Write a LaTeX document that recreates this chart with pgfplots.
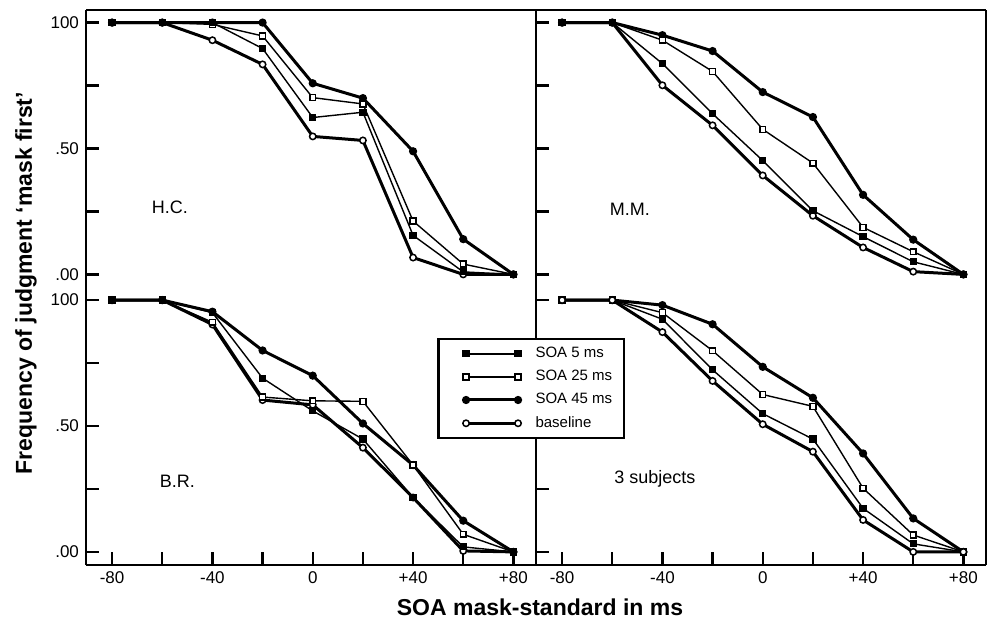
\documentclass[border=0pt]{standalone}
\usepackage{fontspec}
\setmainfont{Liberation Sans}
\usepackage{pgfplots}
\usepackage{pgfplotstable}
\pgfplotsset{compat=1.18}

% columns: SOA, SOA 5 ms, SOA 25 ms, SOA 45 ms, baseline
\pgfplotstableread{
x    s5     s25    s45    base
-80  1.000  1.000  1.000  1.000
-60  1.000  1.000  1.000  1.000
-40  1.000  0.993  1.000  0.930
-20  0.897  0.947  1.000  0.834
0    0.623  0.702  0.759  0.548
20   0.644  0.677  0.700  0.532
40   0.155  0.212  0.489  0.067
60   0.010  0.041  0.140  0.000
80   0.000  0.000  0.000  0.000
}\hc
\pgfplotstableread{
x    s5     s25    s45    base
-80  1.000  1.000  1.000  1.000
-60  1.000  1.000  1.000  1.000
-40  0.837  0.930  0.950  0.751
-20  0.638  0.806  0.887  0.592
0    0.452  0.576  0.724  0.393
20   0.253  0.442  0.625  0.233
40   0.150  0.187  0.316  0.107
60   0.050  0.090  0.138  0.011
80   0.000  0.000  0.000  0.000
}\mm
\pgfplotstableread{
x    s5     s25    s45    base
-80  1.000  1.000  1.000  1.000
-60  1.000  1.000  1.000  1.000
-40  0.950  0.912  0.954  0.903
-20  0.690  0.615  0.800  0.603
0    0.560  0.600  0.700  0.584
20   0.448  0.598  0.510  0.414
40   0.216  0.345  0.345  0.216
60   0.020  0.070  0.124  0.004
80   0.000  0.000  0.000  0.000
}\br
\pgfplotstableread{
x    s5     s25    s45    base
-80  1.000  1.000  1.000  1.000
-60  1.000  1.000  1.000  1.000
-40  0.924  0.950  0.980  0.873
-20  0.723  0.799  0.904  0.679
0    0.549  0.625  0.735  0.507
20   0.448  0.578  0.612  0.398
40   0.173  0.253  0.391  0.127
60   0.032  0.067  0.133  0.000
80   0.000  0.000  0.000  0.000
}\all

\tikzset{lbl/.style={font=\fontsize{9}{10}\selectfont}}
\pgfplotsset{
  every non boxed x axis/.append style={x axis line style=-},
  every non boxed y axis/.append style={y axis line style=-},
  panel/.style={
    scale only axis, width=225pt, height=138.75pt,
    xmin=-90.4, xmax=89, ymin=-0.052, ymax=1.05,
    separate axis lines,
    axis y line*=box, ytick pos=left,
    tick align=inside, major tick length=6.5pt,
    ytick={0,0.25,0.5,0.75,1},
    axis line style={line width=1.4pt, -},
    every tick/.style={line width=1.1pt, black},
    clip=false,
    tick label style={font=\fontsize{8.5}{10}\selectfont},
    /pgf/number format/assume math mode=true,
  },
  toppanel/.style={panel, axis x line*=top, xtick=\empty},
  botpanel/.style={panel, axis x line*=bottom,
    xtick={-80,-60,-40,-20,0,20,40,60,80},
    xticklabels={-80,,-40,,0,,+40,,+80},
    xtick pos=bottom},
  leftpanel/.style={yticklabels={.00,,.50,,100}},
  rightpanel/.style={yticklabels={}},
  s5/.style={black, line width=0.7pt, mark=square*, mark size=1.45pt, mark options={solid}},
  s25/.style={black, line width=0.7pt, mark=square*, mark size=1.45pt, mark options={solid, fill=white, line width=0.7pt}},
  s45/.style={black, line width=1.5pt, mark=*, mark size=1.75pt, mark options={solid, line width=0.6pt}},
  sbase/.style={black, line width=1.5pt, mark=*, mark size=1.6pt, mark options={solid, fill=white, line width=0.75pt}},
}

\begin{document}
\begin{tikzpicture}
\useasboundingbox (-43pt,-26pt) rectangle (452pt,282.5pt);

% top left: H.C.
\begin{axis}[toppanel, leftpanel, at={(0pt,138.75pt)}, anchor=south west]
\addplot[sbase] table[x=x,y=base]{\hc};
\addplot[s45] table[x=x,y=s45]{\hc};
\addplot[s25] table[x=x,y=s25]{\hc};
\addplot[s5] table[x=x,y=s5]{\hc};
\node[lbl] at (axis cs:-57,0.265) {H.C.};
\end{axis}

% top right: M.M.
\begin{axis}[toppanel, rightpanel, at={(225pt,138.75pt)}, anchor=south west]
\addplot[sbase] table[x=x,y=base]{\mm};
\addplot[s45] table[x=x,y=s45]{\mm};
\addplot[s25] table[x=x,y=s25]{\mm};
\addplot[s5] table[x=x,y=s5]{\mm};
\node[lbl] at (axis cs:-53,0.26) {M.M.};
\end{axis}

% bottom left: B.R.
\begin{axis}[botpanel, leftpanel, at={(0pt,0pt)}, anchor=south west]
\addplot[sbase] table[x=x,y=base]{\br};
\addplot[s45] table[x=x,y=s45]{\br};
\addplot[s25] table[x=x,y=s25]{\br};
\addplot[s5] table[x=x,y=s5]{\br};
\node[lbl] at (axis cs:-54,0.279) {B.R.};
\end{axis}

% bottom right: 3 subjects
\begin{axis}[botpanel, rightpanel, at={(225pt,0pt)}, anchor=south west,
  legend style={at={(-0.219,0.818)}, anchor=north west, draw=black,
    line width=1.1pt, fill=white,
    nodes={font=\fontsize{7.5}{9}\selectfont},
    row sep=0.8pt, inner xsep=4pt, inner ysep=2pt,
    /tikz/every odd column/.style={column sep=5pt}},
  legend cell align=left,
  legend image code/.code={\path (-9pt,0pt); \draw[#1] plot coordinates {(0pt,0pt) (26pt,0pt)};},
]
\addplot[s5] table[x=x,y=s5]{\all};
\addplot[s25] table[x=x,y=s25]{\all};
\addplot[s45] table[x=x,y=s45]{\all};
\addplot[sbase] table[x=x,y=base]{\all};
\node[lbl] at (axis cs:-43,0.29) {3 subjects};
\legend{SOA 5 ms, SOA 25 ms, SOA 45 ms, baseline}
\end{axis}

\node[rotate=90, font=\bfseries\fontsize{11.5}{13}\selectfont] at (-30pt,141pt)
  {Frequency of judgment ‘mask first’};
\node[anchor=base, font=\bfseries\fontsize{11.5}{13}\selectfont] at (227pt,-25pt)
  {SOA mask-standard in ms};
\end{tikzpicture}
\end{document}
